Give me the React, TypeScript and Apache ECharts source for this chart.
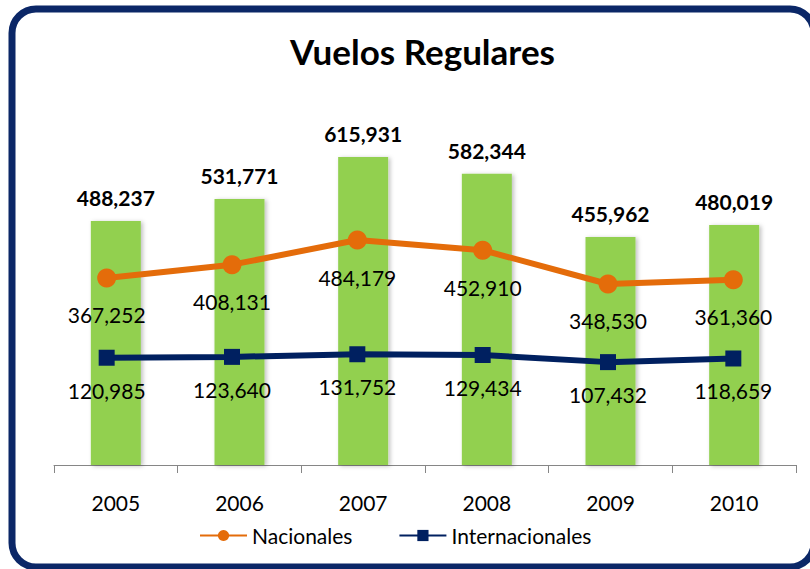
import React, { useEffect, useRef } from "react";
import * as echarts from "echarts";

const years = ["2005", "2006", "2007", "2008", "2009", "2010"];
const totales = [488237, 531771, 615931, 582344, 455962, 480019];
const nacionales = [367252, 408131, 484179, 452910, 348530, 361360];
const internacionales = [120985, 123640, 131752, 129434, 107432, 118659];

const FONT = "Lato";
const fmt = (v: number) => v.toLocaleString("en-US");

export default function App() {
  const ref = useRef<HTMLDivElement>(null);
  useEffect(() => {
    if (!ref.current) return;
    const chart = echarts.init(ref.current, undefined, { renderer: "svg" });
    chart.setOption({
      animation: false,
      backgroundColor: "#ffffff",
      title: {
        text: "Vuelos Regulares",
        left: 285,
        top: 28,
        textStyle: { fontFamily: FONT, fontSize: 35, fontWeight: "bold", color: "#000" },
      },
      graphic: [
        {
          type: "rect",
          shape: { x: 12, y: 9, width: 802, height: 558, r: 24 },
          style: { fill: "none", stroke: "#0B2767", lineWidth: 7 },
          z: 100,
        },
      ],
      legend: {
        data: ["Nacionales", "Internacionales"],
        bottom: 18,
        left: 194,
        itemWidth: 47,
        itemHeight: 14,
        itemGap: 46,
        textStyle: { fontFamily: FONT, fontSize: 21, color: "#000" },
      },
      grid: [
        { left: 54, right: 14, top: 115, bottom: 104 },
        { left: 44, right: 14, top: 115, bottom: 104 },
      ],
      xAxis: [
        {
          type: "category",
          gridIndex: 0,
          data: years,
          axisLine: { lineStyle: { color: "#868686", width: 1 } },
          axisTick: { show: true, length: 8, lineStyle: { color: "#868686" } },
          axisLabel: { fontFamily: FONT, fontSize: 21, color: "#000", margin: 27 },
        },
        { type: "category", gridIndex: 1, data: years, show: false },
      ],
      yAxis: [
        { type: "value", gridIndex: 0, min: 0, max: 700000, show: false, splitLine: { show: false } },
        { type: "value", gridIndex: 1, min: -210000, max: 870000, show: false, splitLine: { show: false } },
      ],
      series: [
        {
          name: "Total",
          type: "bar",
          data: totales,
          barWidth: 50,
          itemStyle: {
            color: "#92D050",
            shadowBlur: 4,
            shadowColor: "rgba(0,0,0,0.25)",
            shadowOffsetX: 2,
            shadowOffsetY: 1,
          },
          label: {
            show: true,
            position: "top",
            distance: 13,
            formatter: (p: any) => fmt(p.value),
            fontFamily: FONT,
            fontSize: 21,
            fontWeight: "bold",
            color: "#000",
          },
          z: 1,
        },
        {
          name: "Nacionales",
          type: "line",
          xAxisIndex: 1,
          yAxisIndex: 1,
          data: nacionales,
          symbol: "circle",
          symbolSize: 19,
          color: "#E46C0A",
          lineStyle: { width: 6, color: "#E46C0A" },
          itemStyle: { color: "#E46C0A" },
          label: {
            show: true,
            position: "bottom",
            distance: 17,
            formatter: (p: any) => fmt(p.value),
            fontFamily: FONT,
            fontSize: 21,
            color: "#000",
          },
          z: 3,
        },
        {
          name: "Internacionales",
          type: "line",
          xAxisIndex: 1,
          yAxisIndex: 1,
          data: internacionales,
          symbol: "rect",
          symbolSize: 16,
          color: "#002060",
          lineStyle: { width: 6, color: "#002060" },
          itemStyle: { color: "#002060" },
          label: {
            show: true,
            position: "bottom",
            distance: 14,
            formatter: (p: any) => fmt(p.value),
            fontFamily: FONT,
            fontSize: 21,
            color: "#000",
          },
          z: 3,
        },
      ],
    });
    return () => chart.dispose();
  }, []);
  return (
    <div
      ref={ref}
      style={{ position: "fixed", left: 0, top: 0, width: 810, height: 569 }}
    />
  );
}
